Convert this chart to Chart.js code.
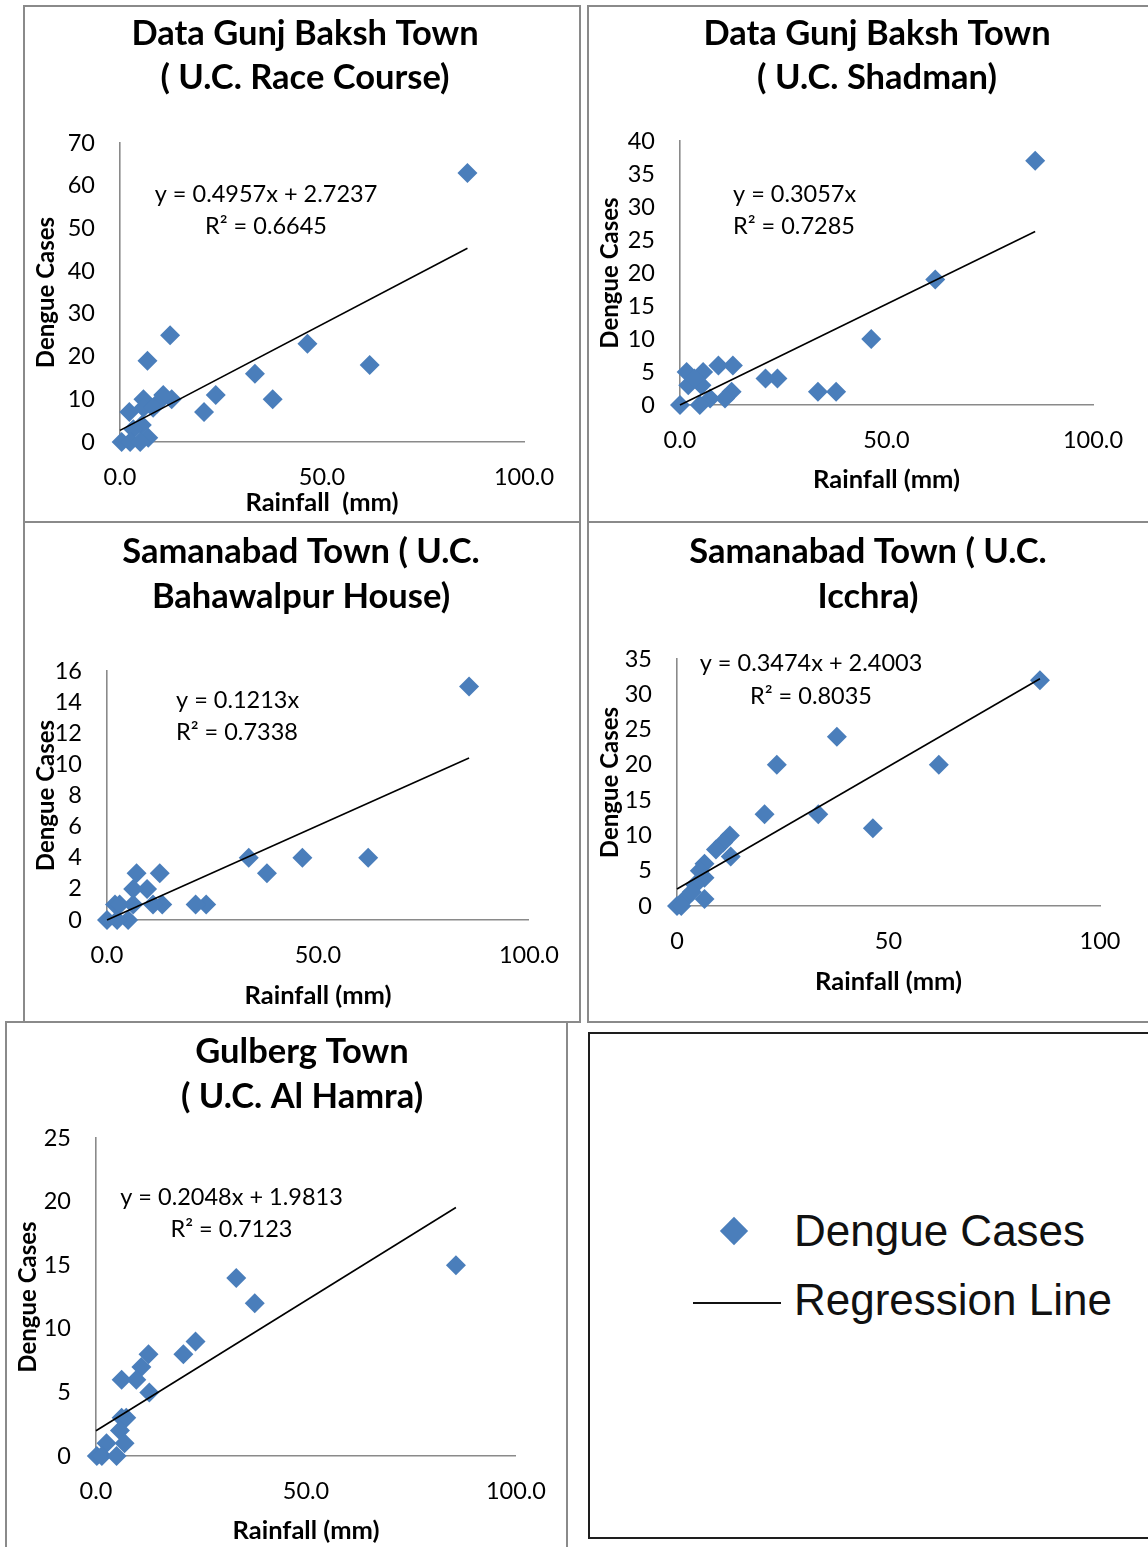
<!DOCTYPE html>
<html>
<head>
<meta charset="utf-8">
<script src="https://cdn.jsdelivr.net/npm/chart.js@4.4.1/dist/chart.umd.min.js"></script>
<style>
html,body{margin:0;padding:0;background:#fff;width:1148px;height:1547px;overflow:hidden;position:relative;font-family:Lato,sans-serif}
canvas{position:absolute}
.box{position:absolute;box-sizing:border-box;border:2px solid #8a8a8a;z-index:2}
.lgbox{position:absolute;box-sizing:border-box;border:2px solid #1e1e1e;z-index:2}
.lgtext{position:absolute;font-family:"Liberation Sans",Arial,Helvetica,sans-serif;font-size:44px;line-height:50px;color:#111;white-space:nowrap}
</style>
</head>
<body>
<script>
// ---------------- DATA ----------------
const panelTitles = [
  ["Data Gunj Baksh Town", "( U.C. Race Course)"],
  ["Data Gunj Baksh Town", "( U.C. Shadman)"],
  ["Samanabad Town ( U.C.", "Bahawalpur House)"],
  ["Samanabad Town ( U.C.", "Icchra)"],
  ["Gulberg Town", "( U.C. Al Hamra)"]
];

const rainRaceCourse  = [86.0, 61.8, 46.4, 37.8, 33.4, 23.7, 20.8, 12.4, 12.8, 10.7, 9.2, 6.8, 5.8, 5.8, 8.2, 2.3, 5.4, 3.3, 7.0, 0.4, 2.5, 5.0];
const casesRaceCourse = [63, 18, 23, 10, 16, 11, 7, 25, 10, 11, 9, 19, 10, 8, 8, 7, 4, 3, 1, 0, 0, 0];

const rainShadman  = [86.0, 61.8, 46.3, 37.8, 33.4, 23.6, 20.7, 12.8, 9.3, 12.5, 10.9, 5.6, 1.6, 2.0, 5.2, 7.3, 4.8, 0.0, 3.5];
const casesShadman = [37, 19, 10, 2, 2, 4, 4, 6, 6, 2, 1, 5, 5, 3, 3, 1, 0, 0, 4];

const rainBahawalpur  = [85.8, 61.9, 46.3, 33.6, 37.9, 23.5, 21.0, 12.5, 7.0, 9.5, 6.2, 13.1, 10.9, 6.2, 1.9, 0.0, 5.0, 2.4, 3.0];
const casesBahawalpur = [15, 4, 4, 4, 3, 1, 1, 3, 3, 2, 2, 1, 1, 1, 1, 0, 0, 0, 1];

const rainIcchra  = [85.8, 61.9, 46.3, 37.8, 33.4, 23.6, 20.7, 12.5, 12.7, 10.9, 9.2, 6.5, 5.4, 6.5, 4.3, 6.5, 0.0, 1.9, 3.5, 1.0];
const casesIcchra = [32, 20, 11, 24, 13, 20, 13, 10, 7, 9, 8, 6, 5, 4, 3, 1, 0, 1, 2, 0];

const rainAlHamra  = [85.7, 33.4, 37.8, 23.7, 20.8, 12.5, 10.8, 9.6, 6.1, 12.7, 6.1, 7.2, 5.7, 2.5, 6.8, 0.2, 1.4, 4.9];
const casesAlHamra = [15, 14, 12, 9, 8, 8, 7, 6, 6, 5, 3, 3, 2, 1, 1, 0, 0, 0];

const trendSlope     = [0.4957, 0.3057, 0.1213, 0.3474, 0.2048];
const trendIntercept = [2.7237, 0, 0, 2.4003, 1.9813];
const trendText = [
  ["y = 0.4957x + 2.7237", "R\u00B2 = 0.6645"],
  ["y = 0.3057x", "R\u00B2 = 0.7285"],
  ["y = 0.1213x", "R\u00B2 = 0.7338"],
  ["y = 0.3474x + 2.4003", "R\u00B2 = 0.8035"],
  ["y = 0.2048x + 1.9813", "R\u00B2 = 0.7123"]
];

const yMaxValues = [70, 40, 16, 35, 25];
const yStepValues = [10, 5, 2, 5, 5];
const xTickLabels = [
  ["0.0", "50.0", "100.0"],
  ["0.0", "50.0", "100.0"],
  ["0.0", "50.0", "100.0"],
  ["0", "50", "100"],
  ["0.0", "50.0", "100.0"]
];
const xAxisTitles = ["Rainfall  (mm)", "Rainfall (mm)", "Rainfall (mm)", "Rainfall (mm)", "Rainfall (mm)"];
const yAxisTitle = "Dengue Cases";
const legendLabels = ["Dengue Cases", "Regression Line"];

const rainfall = [rainRaceCourse, rainShadman, rainBahawalpur, rainIcchra, rainAlHamra];
const dengueCases = [casesRaceCourse, casesShadman, casesBahawalpur, casesIcchra, casesAlHamra];

// ---------------- LAYOUT (page pixels) ----------------
const layouts = [
  {canvas:[24,5,556,517],   area:[120,143,524,442],  yTitleX:46,  xTitleY:503,  title:[305,34,78],    eq:{x:266, y:[194,226], align:'center'}},
  {canvas:[588,5,560,517],  area:[680,141,1093,405], yTitleX:610, xTitleY:480,  title:[877,34,78],    eq:{x:733, y:[194,226], align:'left'}},
  {canvas:[24,522,556,500], area:[107,671,531,920],  yTitleX:46,  xTitleY:996,  title:[301,552,597],  eq:{x:176, y:[700,732], align:'left'}},
  {canvas:[588,522,560,500],area:[677,659,1100,906], yTitleX:610, xTitleY:982,  title:[868,552,597],  eq:{x:811, y:[663,696], align:'center'}},
  {canvas:[6,1022,561,525], area:[96,1138,520,1456], yTitleX:28,  xTitleY:1531, title:[302,1052,1097],eq:{x:231.5, y:[1197,1229], align:'center'}}
];
const borders = [
  [23,5,558,518],[587,5,600,518],[23,521,558,502],[587,521,600,502],[5,1021,563,600]
];

const FONT = 'Lato';
const TITLE_SIZE = 34.5;
const X_TITLE_SIZE = 25.5;
const Y_TITLE_SIZE = 24;
const TICK_SIZE = 23.5;
const EQ_SIZE = 23.5;
const MARKER = '#4A7EBB';
const AXIS_COLOR = '#8a8a8a';

function makeChart(i) {
  const L = layouts[i];
  const [cx, cy, cw, ch] = L.canvas;
  const [al, at, ar, ab] = L.area;
  const canvas = document.createElement('canvas');
  canvas.width = cw; canvas.height = ch;
  canvas.style.left = cx + 'px'; canvas.style.top = cy + 'px';
  canvas.style.width = cw + 'px'; canvas.style.height = ch + 'px';
  document.body.appendChild(canvas);

  const lhY = Y_TITLE_SIZE * 1.2;
  const lhX = X_TITLE_SIZE * 1.2;
  const padL = L.yTitleX - cx - lhY / 2;
  const yW = al - cx - padL;
  const padT = at - cy;
  const padR = cx + cw - ar;
  const padB = cy + ch - L.xTitleY - lhX / 2;
  const xH = cy + ch - padB - ab;

  const rain = rainfall[i], cases = dengueCases[i];
  const pts = rain.map((r, k) => ({x: r, y: cases[k]}));
  const xEnd = Math.max(...rain);
  const m = trendSlope[i], b = trendIntercept[i];
  const linePts = [{x: 0, y: b}, {x: xEnd, y: m * xEnd + b}];

  const textPlugin = {
    id: 'panelText' + i,
    afterDraw(chart) {
      const ctx = chart.ctx;
      ctx.save();
      ctx.fillStyle = '#000';
      ctx.textBaseline = 'middle';
      ctx.textAlign = 'center';
      ctx.font = 'bold ' + TITLE_SIZE + 'px ' + FONT;
      ctx.fillText(panelTitles[i][0], L.title[0] - cx, L.title[1] - cy);
      ctx.fillText(panelTitles[i][1], L.title[0] - cx, L.title[2] - cy);
      ctx.font = EQ_SIZE + 'px ' + FONT;
      ctx.textAlign = L.eq.align;
      ctx.fillText(trendText[i][0], L.eq.x - cx, L.eq.y[0] - cy);
      ctx.fillText(trendText[i][1], L.eq.x - cx, L.eq.y[1] - cy);
      ctx.restore();
    }
  };

  new Chart(canvas, {
    type: 'scatter',
    data: {
      datasets: [
        {
          type: 'line', label: legendLabels[1], data: linePts, showLine: true, clip: false,
          borderColor: '#000', borderWidth: 1.6, pointRadius: 0, fill: false
        },
        {
          label: legendLabels[0], data: pts, pointStyle: 'rectRot', clip: false,
          pointRadius: 10, pointBackgroundColor: MARKER, pointBorderColor: MARKER, pointBorderWidth: 0
        }
      ]
    },
    options: {
      responsive: false, animation: false, events: [],
      layout: {padding: {left: padL, top: padT, right: padR, bottom: padB}},
      plugins: {legend: {display: false}, title: {display: false}, tooltip: {enabled: false}},
      scales: {
        x: {
          type: 'linear', min: 0, max: 100,
          afterFit: s => { s.height = xH; },
          grid: {display: false, drawTicks: false},
          border: {display: true, color: AXIS_COLOR, width: 1.6},
          ticks: {
            stepSize: 50, autoSkip: false, maxRotation: 0, padding: 21, color: '#000',
            font: {family: FONT, size: TICK_SIZE},
            callback: (v, idx) => xTickLabels[i][idx]
          },
          title: {display: true, text: xAxisTitles[i], color: '#000', padding: 0,
                  font: {family: FONT, size: X_TITLE_SIZE, weight: 'bold'}}
        },
        y: {
          type: 'linear', min: 0, max: yMaxValues[i],
          afterFit: s => { s.width = yW; },
          grid: {display: false, drawTicks: false},
          border: {display: true, color: AXIS_COLOR, width: 1.6},
          ticks: {stepSize: yStepValues[i], autoSkip: false, padding: 25, color: '#000',
                  font: {family: FONT, size: TICK_SIZE}},
          title: {display: true, text: yAxisTitle, color: '#000', padding: 0,
                  font: {family: FONT, size: Y_TITLE_SIZE, weight: 'bold'}}
        }
      }
    },
    plugins: [textPlugin]
  });
}

function addBorders() {
  borders.forEach(([x, y, w, h]) => {
    const d = document.createElement('div');
    d.className = 'box';
    d.style.left = x + 'px'; d.style.top = y + 'px';
    d.style.width = w + 'px'; d.style.height = h + 'px';
    document.body.appendChild(d);
  });
  const lg = document.createElement('div');
  lg.className = 'lgbox';
  Object.assign(lg.style, {left: '588px', top: '1032px', width: '600px', height: '507px'});
  document.body.appendChild(lg);
  const dia = document.createElement('div');
  Object.assign(dia.style, {position: 'absolute', left: '724px', top: '1221px', width: '20px', height: '20px',
    background: MARKER, transform: 'rotate(45deg)'});
  document.body.appendChild(dia);
  const ln = document.createElement('div');
  Object.assign(ln.style, {position: 'absolute', left: '693px', top: '1302px', width: '88px', height: '2px', background: '#111'});
  document.body.appendChild(ln);
  const t1 = document.createElement('div');
  t1.className = 'lgtext'; t1.textContent = legendLabels[0];
  Object.assign(t1.style, {left: '794px', top: '1206px'});
  document.body.appendChild(t1);
  const t2 = document.createElement('div');
  t2.className = 'lgtext'; t2.textContent = legendLabels[1];
  Object.assign(t2.style, {left: '794px', top: '1275px'});
  document.body.appendChild(t2);
}

function init() {
  for (let i = 0; i < layouts.length; i++) makeChart(i);
  addBorders();
}
Promise.all([
  document.fonts.load('23px Lato'),
  document.fonts.load('bold 33px Lato')
]).then(init, init);
</script>
</body>
</html>
